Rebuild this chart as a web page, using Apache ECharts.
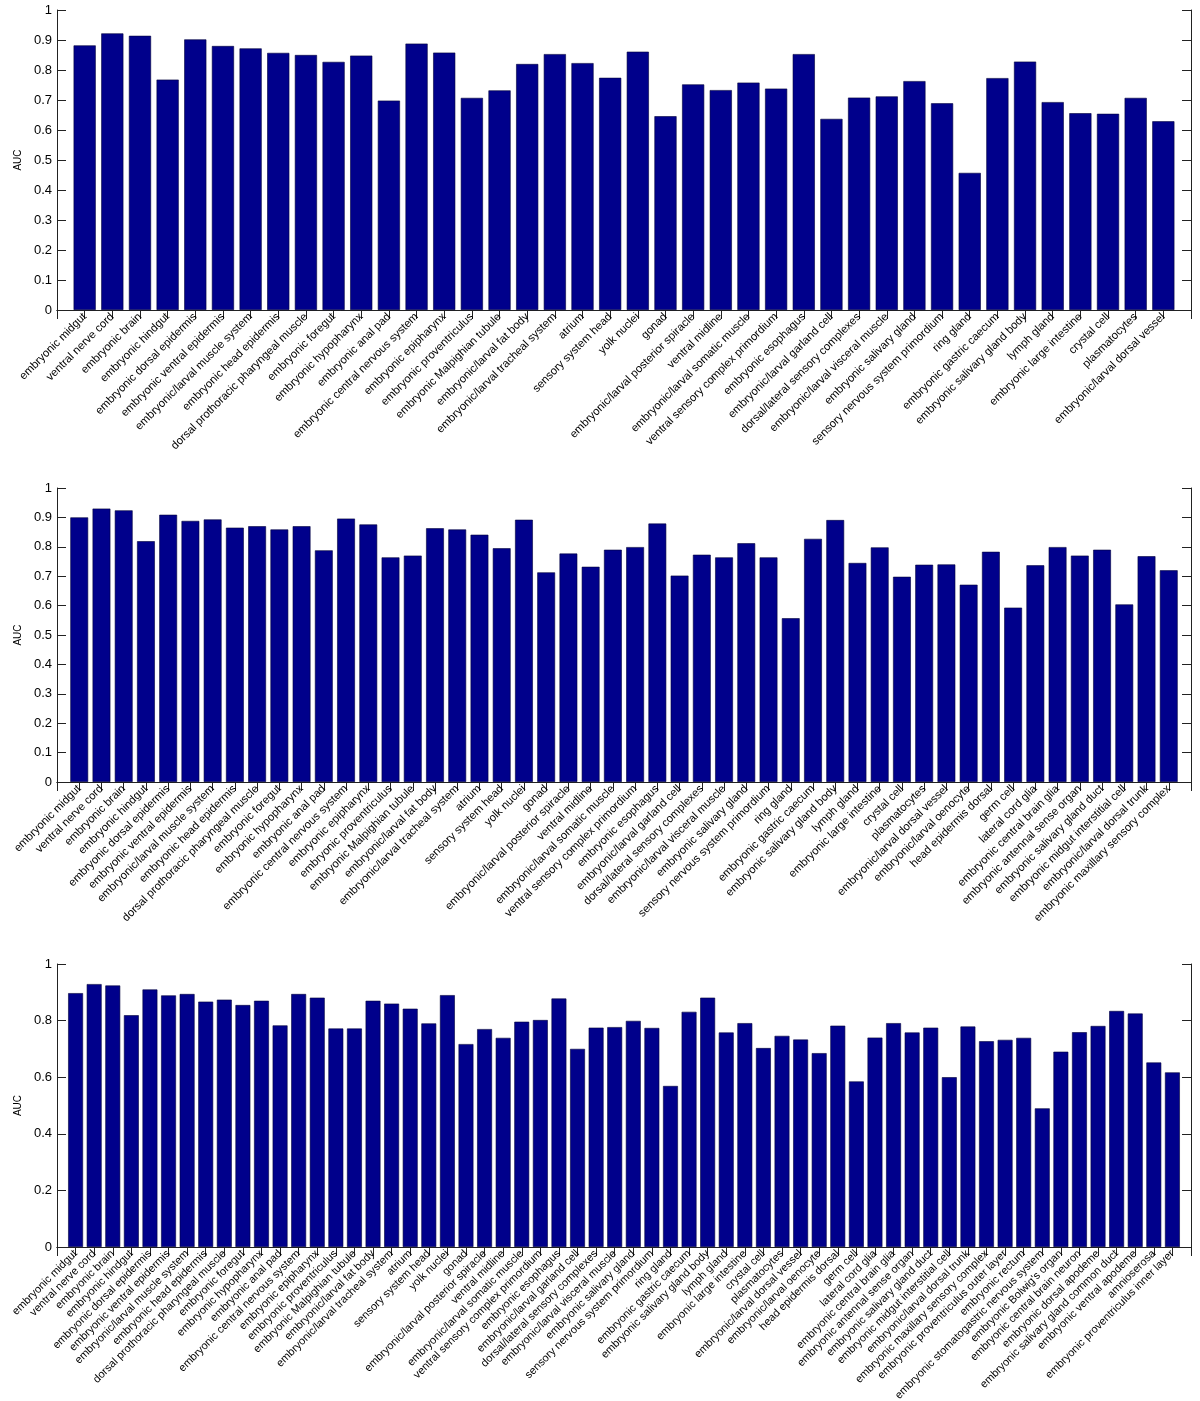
<!DOCTYPE html>
<html>
<head>
<meta charset="utf-8">
<script src="https://cdn.jsdelivr.net/npm/echarts@6/dist/echarts.min.js"></script>
<style>
html,body{margin:0;padding:0;background:#fff;}
#chart{width:1200px;height:1401px;}
</style>
</head>
<body>
<div id="chart"></div>
<script>
// Tissue names (panel 1 uses first 40, panel 2 first 50, panel 3 all 60)
const tissues40 = [
  "embryonic midgut","ventral nerve cord","embryonic brain","embryonic hindgut",
  "embryonic dorsal epidermis","embryonic ventral epidermis","embryonic/larval muscle system",
  "embryonic head epidermis","dorsal prothoracic pharyngeal muscle","embryonic foregut",
  "embryonic hypopharynx","embryonic anal pad","embryonic central nervous system",
  "embryonic epipharynx","embryonic proventriculus","embryonic Malpighian tubule",
  "embryonic/larval fat body","embryonic/larval tracheal system","atrium","sensory system head",
  "yolk nuclei","gonad","embryonic/larval posterior spiracle","ventral midline",
  "embryonic/larval somatic muscle","ventral sensory complex primordium","embryonic esophagus",
  "embryonic/larval garland cell","dorsal/lateral sensory complexes","embryonic/larval visceral muscle",
  "embryonic salivary gland","sensory nervous system primordium","ring gland",
  "embryonic gastric caecum","embryonic salivary gland body","lymph gland",
  "embryonic large intestine","crystal cell","plasmatocytes","embryonic/larval dorsal vessel"
];
const tissuesExtra50 = [
  "embryonic/larval oenocyte","head epidermis dorsal","germ cell","lateral cord glia",
  "embryonic central brain glia","embryonic antennal sense organ","embryonic salivary gland duct",
  "embryonic midgut interstitial cell","embryonic/larval dorsal trunk","embryonic maxillary sensory complex"
];
const tissuesExtra60 = [
  "embryonic proventriculus outer layer","embryonic rectum","embryonic stomatogastric nervous system",
  "embryonic Bolwig's organ","embryonic central brain neuron","embryonic dorsal apodeme",
  "embryonic salivary gland common duct","embryonic ventral apodeme","amnioserosa",
  "embryonic proventriculus inner layer"
];

// AUC values
const auc40 = [0.882,0.922,0.914,0.768,0.902,0.880,0.872,0.857,0.850,0.827,
  0.848,0.698,0.888,0.858,0.707,0.732,0.820,0.853,0.823,0.774,
  0.861,0.646,0.752,0.733,0.758,0.738,0.853,0.637,0.708,0.712,
  0.763,0.689,0.457,0.773,0.828,0.693,0.656,0.654,0.707,0.629];
const auc50 = [0.900,0.930,0.924,0.819,0.909,0.888,0.893,0.865,0.870,0.859,
  0.870,0.788,0.896,0.876,0.764,0.770,0.863,0.859,0.841,0.795,
  0.892,0.713,0.777,0.732,0.790,0.799,0.879,0.702,0.773,0.764,
  0.812,0.764,0.557,0.827,0.891,0.745,0.798,0.698,0.739,0.740,
  0.671,0.783,0.593,0.737,0.799,0.770,0.790,0.604,0.768,0.720];
const auc60 = [0.897,0.929,0.924,0.819,0.910,0.889,0.894,0.867,0.874,0.855,
  0.870,0.783,0.894,0.881,0.772,0.772,0.870,0.860,0.842,0.790,
  0.890,0.717,0.770,0.739,0.796,0.802,0.878,0.700,0.775,0.777,
  0.799,0.774,0.569,0.831,0.881,0.758,0.791,0.703,0.746,0.733,
  0.685,0.782,0.585,0.740,0.791,0.758,0.775,0.600,0.779,0.727,
  0.732,0.739,0.490,0.690,0.759,0.781,0.834,0.825,0.652,0.617];

const yTickStep = [0.1, 0.1, 0.2];
const yAxisName = "AUC";

const names1 = tissues40;
const names2 = tissues40.concat(tissuesExtra50);
const names3 = names2.concat(tissuesExtra60);
const panels = [
  {names: names1, vals: auc40},
  {names: names2, vals: auc50},
  {names: names3, vals: auc60}
];
const gridPos = [
  {top: 10, height: 300, font: 11.3},
  {top: 488, height: 294, font: 11.3},
  {top: 964, height: 283, font: 11}
];

const FONT = "'Liberation Sans', Arial, Helvetica, sans-serif";
const AX = '#222';
const grids = [], xAxes = [], yAxes = [], series = [];

panels.forEach((p, i) => {
  const cats = [''].concat(p.names).concat(['']);
  const data = ['-'].concat(p.vals).concat(['-']);
  grids.push({left: 57, right: 9, top: gridPos[i].top, height: gridPos[i].height,
    containLabel: false, outerBoundsMode: 'none'});
  // bottom category axis with labels
  xAxes.push({
    type: 'category', gridIndex: i, data: cats, boundaryGap: false, position: 'bottom',
    axisLine: {show: true, lineStyle: {color: AX, width: 1}},
    axisTick: {show: false},
    axisLabel: {show: true, interval: 0, rotate: 45, margin: 5, fontSize: gridPos[i].font, color: '#000', fontFamily: FONT},
    splitLine: {show: false}
  });
  // top mirrored axis (ticks only)
  xAxes.push({
    type: 'category', gridIndex: i, data: cats, boundaryGap: false, position: 'top',
    axisLine: {show: true, lineStyle: {color: AX, width: 1}},
    axisTick: {show: true, inside: true, length: 9, interval: 0, lineStyle: {color: AX}},
    axisLabel: {show: false}, splitLine: {show: false}
  });
  const step = yTickStep[i];
  yAxes.push({
    type: 'value', gridIndex: i, min: 0, max: 1, interval: step, position: 'left',
    name: yAxisName, nameLocation: 'middle', nameGap: 27,
    nameTextStyle: {fontSize: 10, color: '#000', fontFamily: FONT},
    axisLine: {show: true, lineStyle: {color: AX, width: 1}},
    axisTick: {show: true, inside: true, length: 9, lineStyle: {color: AX}},
    axisLabel: {show: true, fontSize: 13, color: '#000', fontFamily: FONT, margin: 5,
      formatter: v => String(+v.toFixed(1))},
    splitLine: {show: false}
  });
  yAxes.push({
    type: 'value', gridIndex: i, min: 0, max: 1, interval: step, position: 'right',
    axisLine: {show: true, lineStyle: {color: AX, width: 1}},
    axisTick: {show: true, inside: true, length: 9, lineStyle: {color: AX}},
    axisLabel: {show: false}, splitLine: {show: false}
  });
  series.push({
    type: 'bar', xAxisIndex: 2 * i, yAxisIndex: 2 * i, data: data, barWidth: '80%',
    itemStyle: {color: '#00008B', borderColor: '#00003a', borderWidth: 0.6},
    silent: true, animation: false
  });
});

const chart = echarts.init(document.getElementById('chart'), null, {renderer: 'canvas'});
chart.setOption({
  backgroundColor: '#fff',
  animation: false,
  grid: grids, xAxis: xAxes, yAxis: yAxes, series: series
});
</script>
</body>
</html>
